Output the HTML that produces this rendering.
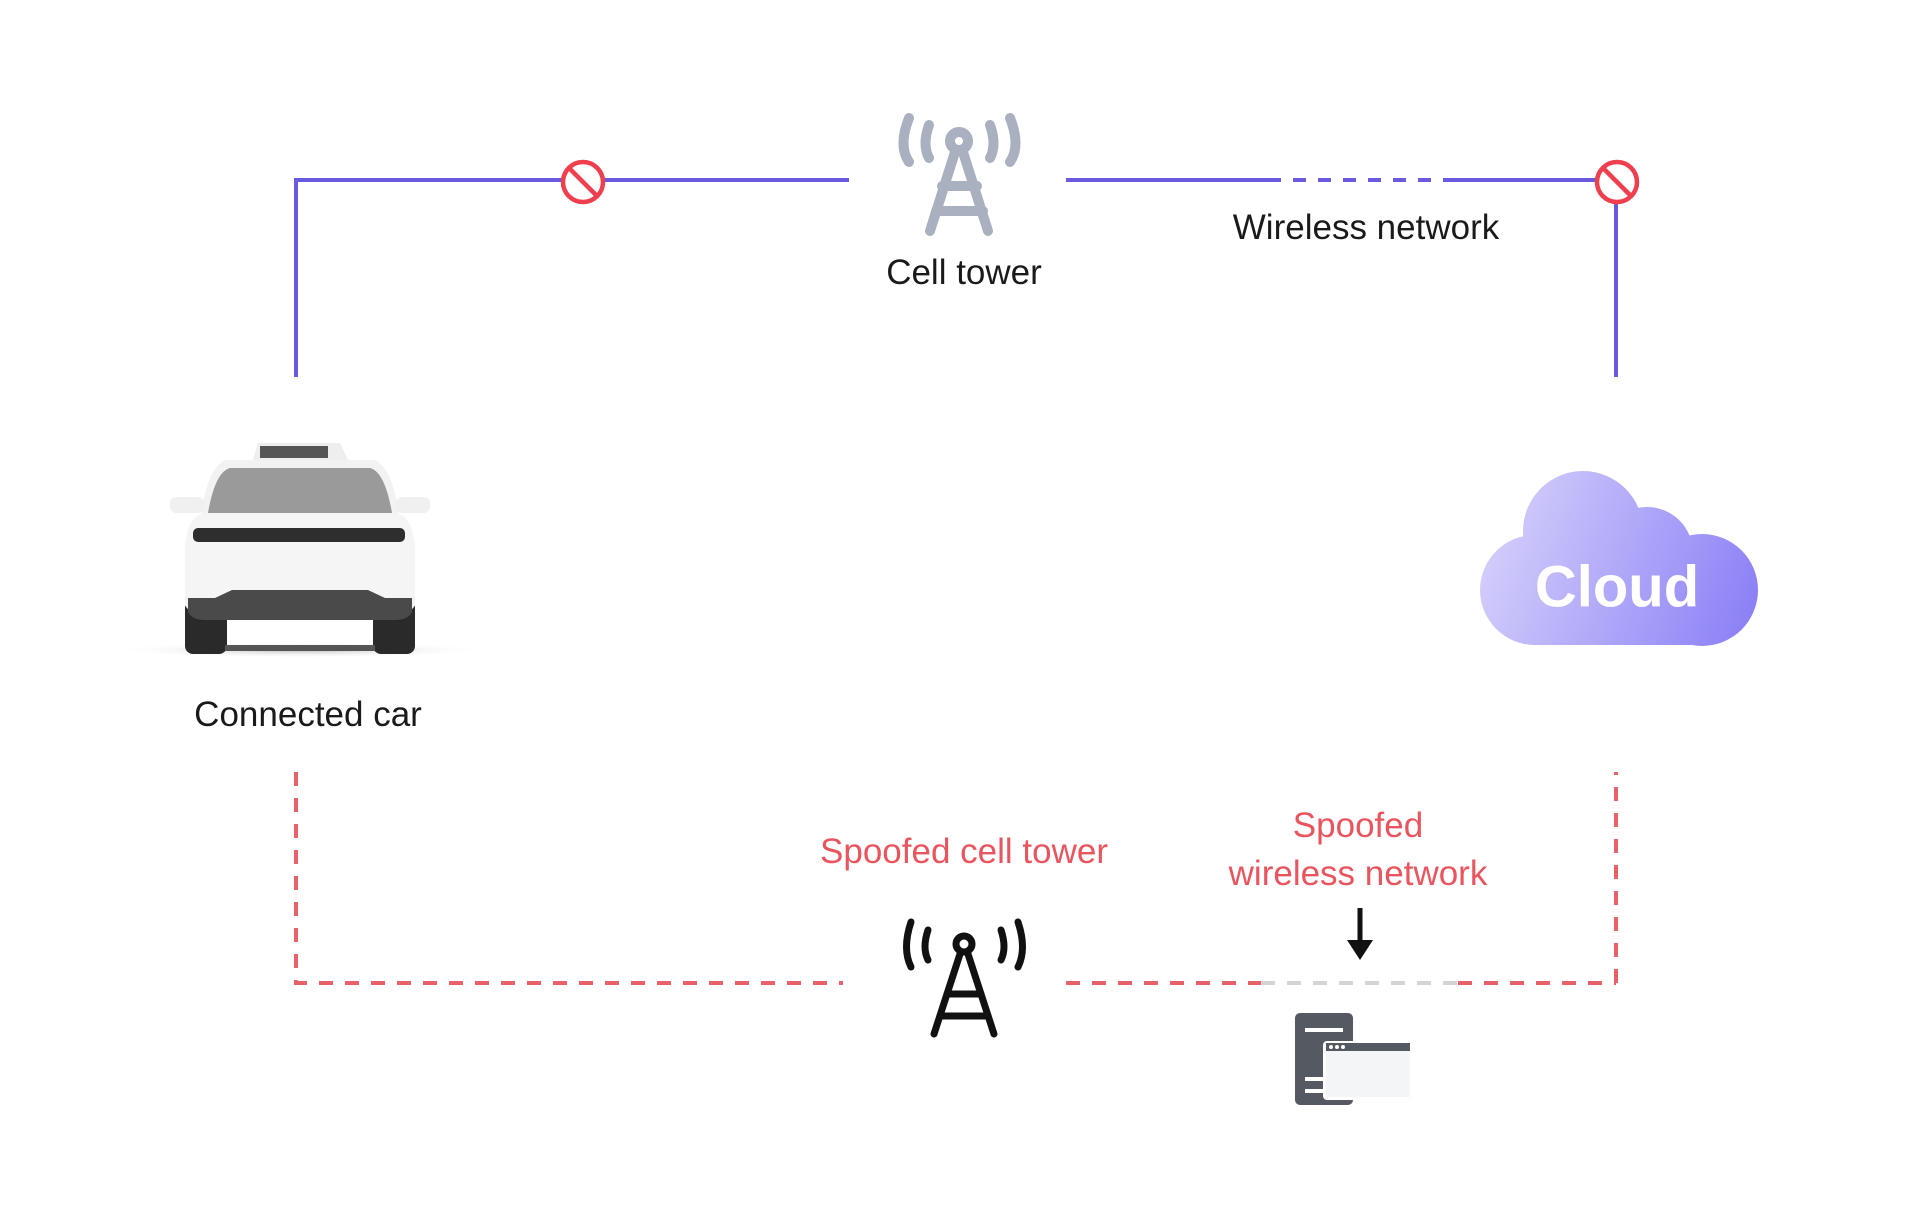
<!DOCTYPE html>
<html><head><meta charset="utf-8"><style>
html,body{margin:0;padding:0;background:#fff;}
body{width:1920px;height:1221px;position:relative;overflow:hidden;font-family:"Liberation Sans",sans-serif;}
.t{position:absolute;transform:translate(-50%,-50%);white-space:nowrap;font-size:35px;color:#1a1a1a;text-align:center;line-height:1.5;}
.r{color:#e8555f;}
</style></head><body>
<svg width="1920" height="1221" style="position:absolute;left:0;top:0">
<defs>
<linearGradient id="cg" gradientUnits="userSpaceOnUse" x1="1480" y1="500" x2="1760" y2="600">
<stop offset="0" stop-color="#d8d4fb"/><stop offset="1" stop-color="#8b80f6"/></linearGradient>
<radialGradient id="sh" cx="0.5" cy="0.5" r="0.5"><stop offset="0" stop-color="#bbb"/><stop offset="1" stop-color="#fff" stop-opacity="0"/></radialGradient>
</defs>
<g stroke="#6a5ae0" stroke-width="4" fill="none">
<polyline points="296,377 296,180 849,180"/>
<line x1="1066" y1="180" x2="1268" y2="180"/>
<line x1="1268" y1="180" x2="1452" y2="180" stroke-dasharray="13,12"/>
<line x1="1452" y1="180" x2="1616" y2="180"/>
<line x1="1616" y1="180" x2="1616" y2="377"/>
</g>
<g stroke="#ef3f4f" stroke-width="4.5" fill="#fff">
<circle cx="583" cy="182" r="20"/><line x1="569" y1="168" x2="597" y2="196"/>
<circle cx="1617" cy="182" r="20"/><line x1="1603" y1="168" x2="1631" y2="196"/>
</g>
<g stroke="#a9b0bf" stroke-width="10" fill="none" stroke-linecap="round">
<path d="M909,118 Q898,146 909,162"/><path d="M929,125 Q922,145 929,158"/>
<path d="M1010,118 Q1021,146 1010,162"/><path d="M990,125 Q997,145 990,158"/>
<circle cx="959" cy="141" r="9"/>
<path d="M955,152 L930,231"/><path d="M963,152 L988,231"/>
<line x1="942" y1="186" x2="977" y2="186"/><line x1="936" y1="211" x2="983" y2="211"/>
</g>
<g stroke="#e8606a" stroke-width="4" fill="none" stroke-dasharray="14,12">
<polyline points="296,772 296,983 843,983"/>
<line x1="1066" y1="983" x2="1261" y2="983"/>
<line x1="1458" y1="983" x2="1616" y2="983"/>
<line x1="1616" y1="983" x2="1616" y2="772"/>
</g>
<line x1="1261" y1="983" x2="1458" y2="983" stroke="#d4d4d4" stroke-width="4" stroke-dasharray="14,12"/>
<g stroke="#111" stroke-width="7" fill="none" stroke-linecap="round">
<path d="M911,922 Q902,949 911,967"/><path d="M928,930 Q922,948 928,960"/>
<path d="M1018,922 Q1027,949 1018,967"/><path d="M1001,930 Q1007,948 1001,960"/>
<circle cx="964" cy="944" r="8"/>
<path d="M960,954 L934,1034"/><path d="M968,954 L994,1034"/>
<line x1="947" y1="994" x2="981" y2="994"/><line x1="940" y1="1016" x2="988" y2="1016"/>
</g>
<line x1="1360" y1="908" x2="1360" y2="945" stroke="#111" stroke-width="5"/>
<polygon points="1347,940 1373,940 1360,960" fill="#111"/>
<rect x="1295" y="1013" width="58" height="92" rx="5" fill="#555962"/>
<rect x="1305" y="1028" width="38" height="4" fill="#fff"/>
<rect x="1305" y="1077" width="20" height="4" fill="#fff"/>
<rect x="1305" y="1089" width="20" height="4" fill="#fff"/>
<rect x="1323" y="1041" width="88" height="59" rx="4" fill="#fff"/>
<rect x="1326" y="1043" width="84" height="8" fill="#555962"/>
<rect x="1326" y="1051" width="84" height="46" fill="#f4f5f7"/>
<circle cx="1331" cy="1047" r="2" fill="#fff"/><circle cx="1337" cy="1047" r="2" fill="#fff"/><circle cx="1343" cy="1047" r="2" fill="#fff"/>
<g fill="url(#cg)">
<circle cx="1583" cy="531" r="60"/>
<circle cx="1647" cy="553" r="46"/>
<circle cx="1535" cy="590" r="55"/>
<circle cx="1702" cy="590" r="56"/>
<rect x="1535" y="560" width="167" height="85"/>
</g>
<ellipse cx="300" cy="650" rx="190" ry="8" fill="url(#sh)"/>
<rect x="185" y="600" width="42" height="54" rx="8" fill="#2a2a2a"/>
<rect x="373" y="600" width="42" height="54" rx="8" fill="#2a2a2a"/>
<rect x="225" y="645" width="150" height="6" fill="#555"/>
<path d="M253,460 L258,443 L340,443 L348,460 Z" fill="#eee"/>
<rect x="260" y="446" width="68" height="12" fill="#555"/>
<path d="M200,525 Q205,470 225,460 L375,460 Q395,470 400,525 Z" fill="#f2f2f2"/>
<path d="M208,513 Q215,472 230,468 L370,468 Q385,472 392,513 Z" fill="#9a9a9a"/>
<rect x="170" y="497" width="34" height="16" rx="6" fill="#f0f0f0"/>
<rect x="396" y="497" width="34" height="16" rx="6" fill="#f0f0f0"/>
<path d="M185,545 Q188,515 205,513 L395,513 Q412,515 415,545 L415,605 Q410,615 395,615 L205,615 Q190,615 185,605 Z" fill="#f5f5f5"/>
<rect x="193" y="528" width="212" height="14" rx="5" fill="#2e2e2e"/>
<path d="M188,598 L215,598 L232,590 L368,590 L385,598 L412,598 L412,612 Q408,620 395,620 L205,620 Q192,620 188,612 Z" fill="#4a4a4a"/>
</svg>
<div class="t" style="left:964px;top:273px">Cell tower</div>
<div class="t" style="left:1366px;top:228px">Wireless network</div>
<div class="t" style="left:308px;top:715px">Connected car</div>
<div class="t" style="left:1617px;top:587px;color:#fff;font-weight:bold;font-size:58px">Cloud</div>
<div class="t r" style="left:964px;top:852px">Spoofed cell tower</div>
<div class="t r" style="left:1358px;top:850px;line-height:48px">Spoofed<br>wireless network</div>
</body></html>
